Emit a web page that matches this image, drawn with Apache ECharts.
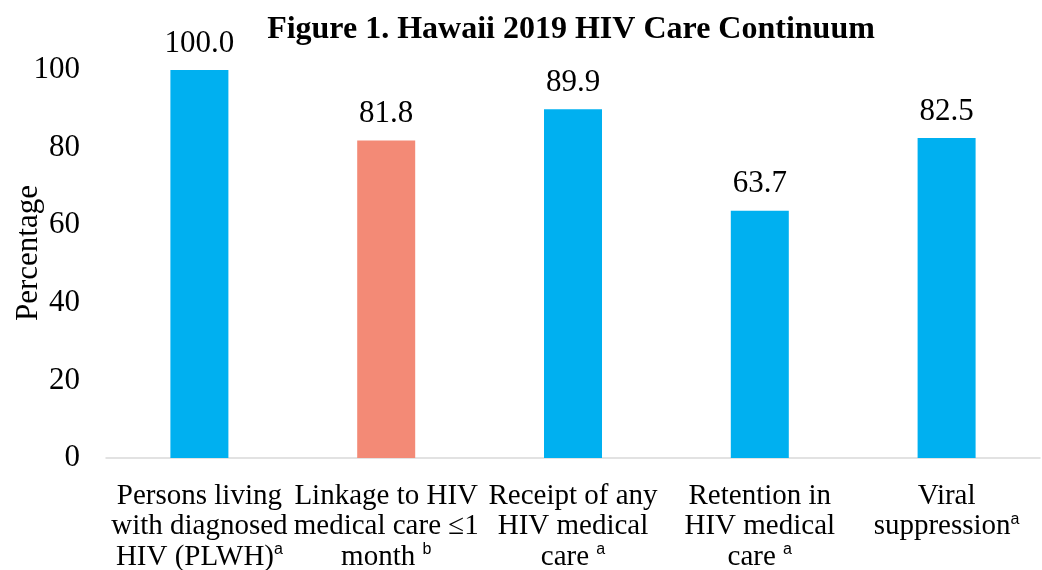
<!DOCTYPE html>
<html>
<head>
<meta charset="utf-8">
<script src="https://cdn.jsdelivr.net/npm/echarts@6/dist/echarts.min.js"></script>
<style>
  html, body { margin: 0; padding: 0; background: #fff; }
  #chart { width: 1042px; height: 570px; }
</style>
</head>
<body>
<div id="chart"></div>
<script>
// 类别与数值
const categories = [
  'Persons living\nwith diagnosed\nHIV (PLWH){sup|a}',
  'Linkage to HIV\nmedical care ≤1\nmonth {sup|b}',
  'Receipt of any\nHIV medical\ncare {sup|a}',
  'Retention in\nHIV medical\ncare {sup|a}',
  'Viral\nsuppression{sup|a}'
]
const values = [100.0, 81.8, 89.9, 63.7, 82.5]
const barColors = ['#00B0F0', '#F38A76', '#00B0F0', '#00B0F0', '#00B0F0']

const serif = '"Liberation Serif", "Times New Roman", serif'
const chart = echarts.init(document.getElementById('chart'))

chart.setOption({
  animation: false,
  title: {
    text: 'Figure 1. Hawaii 2019 HIV Care Continuum',
    left: 566,
    textAlign: 'center',
    top: 9,
    textStyle: { fontFamily: serif, fontSize: 32, fontWeight: 'bold', color: '#000' }
  },
  grid: { left: 106, right: 2, top: 70, bottom: 112, containLabel: false, outerBoundsMode: 'none' },
  xAxis: {
    type: 'category',
    data: categories,
    axisLine: { lineStyle: { color: '#d9d9d9', width: 1.5 } },
    axisTick: { show: false },
    axisLabel: {
      interval: 0,
      margin: 23,
      fontFamily: serif,
      fontSize: 29,
      lineHeight: 30.5,
      color: '#000',
      rich: {
        sup: {
          fontFamily: '"Liberation Sans", Arial, sans-serif',
          fontSize: 16,
          verticalAlign: 'top',
          lineHeight: 30.5,
          color: '#000'
        }
      }
    }
  },
  yAxis: {
    type: 'value',
    min: 0,
    max: 100,
    interval: 20,
    name: 'Percentage',
    nameLocation: 'middle',
    nameGap: 62,
    nameMoveOverlap: false,
    nameTextStyle: { fontFamily: serif, fontSize: 31, color: '#000', padding: [0, 0, 0, 22] },
    axisLine: { show: false },
    axisTick: { show: false },
    splitLine: { show: false },
    axisLabel: { fontFamily: serif, fontSize: 31, color: '#000', margin: 26 }
  },
  series: [{
    type: 'bar',
    data: values.map((v, i) => ({ value: v, itemStyle: { color: barColors[i] } })),
    barWidth: 58,
    label: {
      show: true,
      position: 'top',
      distance: 11,
      formatter: p => p.value.toFixed(1),
      fontFamily: serif,
      fontSize: 31,
      color: '#000'
    }
  }]
})
</script>
</body>
</html>
